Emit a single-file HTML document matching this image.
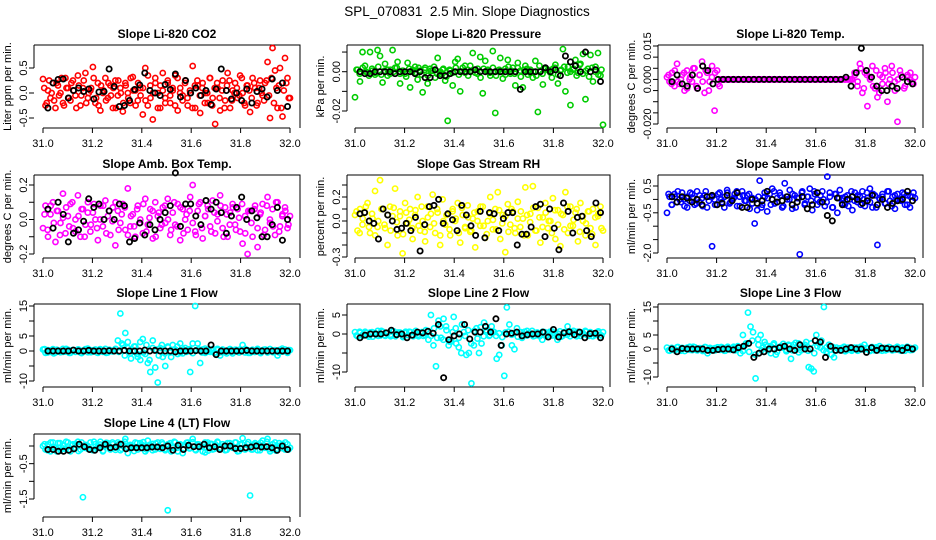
<!DOCTYPE html>
<html><head><meta charset="utf-8"><title>SPL_070831 2.5 Min. Slope Diagnostics</title>
<style>
html,body{margin:0;padding:0;background:#fff;}
svg{display:block;font-family:"Liberation Sans",Arial,sans-serif;}
</style></head>
<body>
<svg id="chart" width="936" height="540" viewBox="0 0 936 540" xmlns="http://www.w3.org/2000/svg">
<rect x="0" y="0" width="936" height="540" fill="#fff"/>
<text x="467" y="16" font-size="13.5" text-anchor="middle" style="white-space:pre">SPL_070831  2.5 Min. Slope Diagnostics</text>
</svg>
<script>
// ---- data ----
const xTicks = [31.0, 31.2, 31.4, 31.6, 31.8, 32.0];
const xTickLabels = ["31.0", "31.2", "31.4", "31.6", "31.8", "32.0"];
const xStart = 31.0;
const xEnd = 32.0;

const co2Color = [0.28,-0.25,0.05,-0.1,0.2,-0.3,0.15,0.0,-0.2,0.3,0.1,-0.15,0.25,-0.05,0.35,-0.25,0.1,0.4,-0.1,0.05,0.52,-0.2,0.2,-0.35,0.0,0.3,-0.1,0.15,-0.3,0.25,-0.05,0.1,-0.37,0.2,0.0,-0.2,0.32,0.05,-0.15,0.1,-0.43,0.5,-0.25,0.15,-0.53,0.3,0.0,-0.3,0.4,-0.1,0.2,-0.2,0.05,0.35,-0.35,0.1,-0.05,0.25,-0.25,0.0,0.54,-0.3,0.15,-0.4,0.2,0.0,-0.2,0.3,-0.1,-0.62,0.1,-0.35,0.25,-0.15,0.4,-0.3,0.05,0.2,-0.1,0.35,0.0,-0.25,0.15,-0.38,0.3,0.1,-0.2,0.25,-0.05,0.2,0.62,-0.5,0.9,0.45,-0.3,0.5,-0.47,0.7,0.3,-0.1];
const co2Color2 = [0.1,-0.2,0.25,0.0,-0.15,0.2,-0.05,0.3,-0.25,0.1,-0.1,0.2,0.05,-0.3,0.15,-0.05,0.25,-0.2,0.0,0.1,0.3,-0.1,-0.25,0.15,0.05,-0.15,0.2,-0.05,0.1,-0.3,0.25,0.0,-0.2,0.15,-0.1,0.3,0.05,-0.25,0.2,-0.05,0.1,-0.15,0.35,-0.1,0.0,0.2,-0.3,0.15,0.05,-0.2,0.25,-0.05,0.1,-0.25,0.3,0.0,-0.15,0.2,-0.1,0.05,-0.3,0.15,0.25,-0.05,0.1,-0.2,0.0,0.3,-0.25,0.1,0.2,-0.1,0.05,-0.3,0.15,0.25,-0.15,0.0,0.1,-0.05,0.3,-0.2,0.15,0.05,-0.1,0.2,-0.25,0.1,0.0,-0.15,0.25,-0.05,0.3,-0.2,0.1,0.15,-0.3,0.05,0.2,-0.1];
const co2Black = [-0.3,0.2,0.27,0.28,-0.1,0.05,0.1,0.03,0.08,-0.12,0.02,0.03,0.48,0.13,-0.27,-0.25,-0.15,0.07,0.16,0.4,0.05,0.0,-0.05,0.17,0.07,0.38,-0.08,0.25,0.0,0.1,-0.05,0.05,-0.23,0.08,0.48,0.05,-0.12,0.0,-0.15,0.08,-0.2,0.03,0.08,-0.08,0.28,0.05,0.2,-0.27];

const presColor = [-0.013,0.001,-0.005,0.01,0.003,-0.0005,0.01,0.0005,-0.0015,0.011,0.008,-0.0055,0.004,0.001,-0.001,0.011,0.002,0.005,-0.006,0.0005,-0.001,0.0045,-0.008,0.001,0.0025,-0.004,0.0005,-0.0105,0.002,-0.006,0.0015,0.0005,-0.003,0.007,-0.001,0.001,-0.0045,-0.025,0.0005,-0.007,0.005,0.0065,-0.01,0.002,-0.0005,0.001,0.003,0.0095,-0.0005,0.0015,0.0075,-0.011,0.0055,0.001,-0.002,0.0105,-0.021,0.0005,0.007,-0.0035,0.0015,0.006,-0.001,0.002,-0.007,0.0045,0.0005,-0.008,0.003,-0.0015,0.001,-0.003,0.0055,-0.0205,0.0005,-0.0065,0.002,0.001,-0.0005,0.0015,0.0035,-0.006,0.0005,0.0115,-0.01,0.0025,-0.017,0.001,0.006,-0.0005,0.004,0.009,-0.014,0.0015,0.0085,-0.005,0.0025,0.0095,-0.002,-0.027];
const presColor2 = [0.001,-0.001,0.002,0,-0.002,0.0015,-0.0005,0.0025,-0.0015,0.0005,-0.002,0.001,0,0.002,-0.001,0.0005,-0.0025,0.0015,0,-0.0005,0.002,-0.0015,0.001,-0.002,0.0005,0.0025,-0.001,0,0.0015,-0.0025,0.001,-0.0005,0.002,-0.0015,0,0.003,-0.002,0.0005,0.001,-0.001,-0.003,0.0015,0.0005,-0.0005,0.002,-0.002,0.001,0,-0.0015,0.0025,0.0005,-0.001,0.002,-0.0025,0.001,0.0015,-0.0005,0,-0.002,0.003,-0.001,0.0015,0.0005,-0.003,0.002,-0.0015,0.001,0.0025,-0.0005,0,0.0015,-0.002,0.0035,-0.001,0.0005,-0.0025,0.002,0,-0.0015,0.001];
const presBlack = [0,-0.001,-0.001,0,0,0,0,-0.001,0,0,0,-0.001,0,-0.003,-0.003,0.001,-0.002,-0.002,-0.001,0,0,0,0,0.001,0,0,0,0,0,0,0,0,-0.009,0,0,0,0,0.002,0,0.001,-0.002,0.008,0.005,0.003,0,0.01,0,0.001,-0.005];

const tempColor = [0.001,-0.001,0.003,-0.003,0.007,-0.002,0.002,-0.005,0.004,0,-0.001,0.005,-0.004,0.002,0.008,-0.006,0.003,-0.001,0.006,-0.014,0.004,-0.003,0,0,0,0,0,0,0,0,0,0,0,0,0,0,0,0,0,0,0,0,0,0,0,0,0,0,0,0,0,0,0,0,0,0,0,0,0,0,0,0,0,0,0,0,0,0,0,0,0,0,0,0,0,0.002,-0.003,0.007,-0.006,0.003,-0.012,0.001,0.006,-0.004,-0.008,0.002,-0.002,0.005,-0.01,0,0.003,-0.005,-0.019,0.004,0.001,-0.003,0.002,0,-0.001,0.001];
const tempColor2 = [0.002,-0.002,0.004,-0.001,0,0.003,-0.004,0.001,0.005,-0.003,0.002,-0.001,0.004,-0.005,0.001,0.003,-0.002,0,0,0,0,0,0,0,0,0,0,0,0,0,0,0,0,0,0,0,0,0,0,0,0,0,0,0,0,0,0,0,0,0,0,0,0,0,0,0,0,0,0,0,0.003,-0.001,0.005,-0.004,0.002,0,-0.003,0.004,-0.006,0.001,0.003,-0.002,0.006,-0.001,0,0.002,-0.004,0.001,0.003,-0.002];
const tempBlack = [-0.001,0.002,-0.002,-0.003,0.002,-0.004,0.006,0.004,-0.002,0,0,0,0,0,0,0,0,0,0,0,0,0,0,0,0,0,0,0,0,0,0,0,0,0,0.001,-0.003,0.003,0.014,0.004,0.001,-0.003,-0.005,-0.005,-0.003,-0.004,0.001,-0.001,-0.002];

const ambColor = [-0.05,0.08,-0.1,0.03,0.1,-0.13,0.05,-0.02,0.15,-0.08,0.02,0.09,-0.05,0.0,0.14,-0.1,0.06,-0.03,0.1,-0.07,0.04,0.0,-0.12,0.08,-0.04,0.11,0.02,-0.09,0.07,-0.15,0.05,-0.02,0.09,-0.06,0.18,-0.04,0.03,-0.1,0.08,0.0,-0.08,0.12,-0.03,0.06,-0.11,0.1,0.02,-0.05,0.07,-0.02,0.12,-0.09,0.04,-0.03,0.09,-0.12,0.06,0.0,-0.06,0.13,0.2,-0.07,0.05,0.1,-0.11,0.02,0.08,-0.04,0.11,-0.08,0.03,0.14,-0.05,0.07,-0.1,0.04,0.09,-0.03,0.06,-0.07,-0.14,0.02,-0.2,0.05,-0.1,0.08,-0.16,0.03,0.09,-0.06,0.13,-0.02,0.06,-0.09,0.1,-0.04,0.03,0.07,-0.05,0.02];
const ambColor2 = [0.03,-0.06,0.08,-0.02,0.05,-0.09,0.01,0.07,-0.04,0.1,-0.07,0.02,0.06,-0.1,0.04,-0.03,0.09,-0.05,0.0,0.08,-0.08,0.05,-0.01,0.1,-0.06,0.03,0.07,-0.09,0.02,-0.04,0.06,-0.02,0.09,-0.07,0.01,0.05,-0.1,0.04,-0.03,0.08,0.0,-0.06,0.1,-0.04,0.07,-0.08,0.03,0.05,-0.02,-0.09,0.09,-0.05,0.02,0.06,-0.07,0.04,-0.01,0.08,-0.1,0.03,-0.03,0.07,-0.06,0.01,0.09,-0.08,0.05,-0.02,0.06,-0.05,0.04,-0.09,0.08,0.0,-0.04,0.1,-0.07,0.02,0.05,-0.03];
const ambBlack = [0.06,-0.05,0.1,0.03,-0.13,-0.08,-0.06,-0.01,0.12,0.07,0.09,0.0,0.05,0.0,0.09,0.08,-0.13,-0.11,-0.02,-0.09,-0.03,-0.06,0.0,0.04,0.08,0.27,-0.04,0.09,0.09,0.02,-0.03,0.11,0.06,0.1,0.04,-0.08,0.02,0.07,0.13,0.0,0.05,0.01,-0.1,-0.1,-0.03,0.07,-0.12,0.0];

const rhColor = [0.05,-0.08,0.1,-0.03,0.07,0.15,-0.1,0.02,0.25,-0.05,0.34,0.1,-0.06,-0.2,0.12,0.04,0.27,-0.12,0.08,-0.27,0.15,-0.02,0.1,-0.15,0.05,0.2,-0.08,0.0,-0.17,0.12,-0.05,0.22,-0.1,0.07,-0.2,0.18,-0.03,0.06,-0.12,0.1,0.0,0.15,-0.18,0.05,-0.06,0.13,-0.09,0.02,-0.22,0.08,-0.04,0.12,-0.14,0.0,0.2,-0.07,0.1,0.24,-0.15,0.05,-0.26,0.14,-0.03,0.08,-0.1,0.16,-0.05,0.02,0.28,-0.12,0.06,0.29,-0.08,0.11,-0.18,0.03,0.15,-0.06,0.0,0.19,-0.15,0.09,-0.21,0.05,0.24,-0.1,0.12,-0.04,0.07,-0.17,0.15,0.0,-0.12,0.08,-0.06,0.1,-0.2,0.04,0.12,-0.08];
const rhColor2 = [0.08,-0.1,0.02,0.12,-0.05,0.06,-0.12,0.0,0.1,-0.03,0.05,-0.08,0.11,-0.01,0.04,-0.11,0.07,0.01,-0.06,0.09,-0.04,0.12,-0.09,0.03,0.06,-0.02,0.1,-0.12,0.0,0.05,-0.07,0.08,0.02,-0.1,0.11,-0.05,0.03,-0.08,0.07,0.0,0.12,-0.04,-0.11,0.06,0.01,-0.07,0.09,-0.02,0.04,-0.09,0.1,-0.06,0.02,0.08,-0.12,0.05,-0.01,0.11,-0.08,0.03,-0.05,0.07,0.0,-0.1,0.09,-0.03,0.06,-0.07,0.12,-0.04,0.01,0.1,-0.09,0.04,-0.02,0.08,-0.11,0.03,0.06,-0.06];
const rhBlack = [0.06,0.07,0.0,-0.02,-0.15,0.1,0.05,0.0,-0.07,-0.06,-0.02,-0.08,0.03,-0.25,-0.03,0.12,0.13,0.18,-0.02,0.06,0.01,-0.08,0.13,0.05,-0.04,-0.12,0.08,-0.14,0.07,0.06,-0.08,0.02,0.07,0.07,-0.2,-0.11,-0.11,-0.05,0.12,0.14,-0.13,0.1,-0.06,-0.24,0.15,0.08,-0.1,0.03,0.04,-0.08,-0.13,0.15,0.07];

const flowColor = [-0.5,0.1,-0.2,0.2,-0.1,0.0,0.25,-0.25,0.1,-0.05,0.2,-0.2,0.3,-0.1,0.05,0.15,-0.3,0.1,-1.75,0.0,-0.2,0.25,-0.1,0.1,0.35,-0.15,0.0,0.2,-0.25,0.1,0.3,-0.05,0.15,-0.35,0.05,-0.9,-0.4,0.7,-0.2,0.1,-0.45,0.2,0.4,-0.15,0.05,0.25,-0.3,0.6,0.0,0.35,-0.35,0.15,0.05,-2.05,0.3,-0.2,0.1,0.4,-0.4,0.2,0.0,-0.1,0.3,-0.25,0.85,0.1,-0.3,0.2,-0.5,0.35,0.05,-0.2,0.15,0.0,-0.4,0.25,-0.1,0.1,0.3,-0.25,0.05,0.4,-0.3,0.15,-1.7,0.0,0.2,-0.15,0.3,-0.05,0.1,-0.35,0.2,0.0,0.25,-0.2,0.15,-0.3,0.1,0.05];
const flowColor2 = [0.2,-0.2,0.1,0.3,-0.1,0.0,-0.3,0.25,0.05,-0.15,0.15,-0.25,0.3,-0.05,0.1,-0.2,0.2,0.0,-0.3,0.25,-0.1,0.05,0.3,-0.25,0.15,-0.05,0.2,-0.15,0.0,0.1,-0.3,0.25,0.05,-0.2,0.3,-0.1,0.15,-0.25,0.1,0.0,0.2,-0.3,0.05,0.25,-0.15,0.1,-0.05,0.3,-0.2,0.15,0.0,-0.1,0.25,-0.3,0.2,0.05,-0.15,0.1,-0.25,0.3,-0.05,0.15,-0.2,0.0,0.25,-0.1,0.2,-0.3,0.05,0.1,-0.15,0.3,-0.25,0.15,0.0,-0.05,0.2,-0.2,0.1,0.25];
const flowBlack = [0.1,-0.1,0.1,0.05,-0.1,0.0,-0.2,0.1,0.15,-0.2,-0.15,0.15,-0.05,0.25,-0.3,-0.3,0.0,-0.15,-0.05,0.3,0.0,-0.1,-0.05,0.1,-0.2,-0.1,0.1,-0.35,-0.2,0.25,-0.1,-0.6,-0.8,0.05,-0.2,0.0,0.1,0.0,-0.15,-0.05,0.15,-0.2,0.0,-0.3,-0.15,-0.05,0.0,0.3,-0.05];

const line1Color = [0.5,-0.6,0.3,-0.3,0.6,-0.5,0.2,-0.4,0.7,-0.2,0.4,-0.6,0.3,-0.3,0.5,-0.5,0.1,0.6,-0.4,0.3,-0.2,0.5,-0.6,0.4,-0.3,0.7,-0.5,0.2,-0.1,0.6,3.5,12.5,2,6,3,-0.8,-0.2,1.5,-2,-3,4,-1,-4,-7,3.5,-5.5,-10.5,1,-2,-5,1.5,-0.5,2,0.5,-1,2.5,-0.8,1,0.3,-7,2.5,15,2.5,-4,0.5,-0.6,0.4,-0.3,0.6,-0.5,0.3,-1.5,0.5,-0.4,0.2,0.6,-0.8,0.4,-0.2,0.5,2,-0.5,0.3,-0.6,0.4,-0.3,0.7,-0.4,0.2,0.5,-0.5,0.6,-0.3,0.3,-1.5,0.4,-0.2,0.5,-0.6,0.3];
const line1Color2 = [0.6,-0.5,0.2,-0.8,0.4,0.0,-0.3,0.7,-0.6,0.3,-0.2,0.5,-0.7,0.1,0.8,-0.4,0.3,-0.5,0.6,0.0,-0.6,0.4,-0.1,0.7,-0.3,2.5,-1.5,1,-2.5,1.5,-1,3,-0.5,2,-3,1,0.5,-1.5,2,-0.8,1.2,-2,0.5,1.5,-0.6,0.4,-0.3,0.6,-0.7,0.2,0.5,-0.5,0.8,-0.2,0.3,-0.6,0.7,-0.4,0.1,-0.8,0.6,-0.2,0.4,-0.5,0.3,0.7,-0.6,0.2,-0.3,0.5,-0.7,0.4,0.0,0.6,-0.4,0.2,-0.5,0.8,-0.1,0.3];
const line1Black = [0,0,0,0,0,0.3,0,0,0.2,0,0,0,0.1,0,0,0.2,0,0,0,0.3,0,0.2,0,0,0,-0.3,0,0,0,0.1,0,0,2,-1.2,0,0,0,0,0,0.2,0,0,0,0,0,0,0,0];

const line2Color = [0.5,-0.6,0.3,-0.5,0.6,-0.3,0.4,-0.7,0.2,0.8,-0.4,0.6,-0.5,0.3,-0.2,0.7,-0.6,0.4,0.1,-0.5,0.6,-0.3,0.5,-0.6,0.8,-0.2,0.3,-0.5,1,-1.5,5,-3,-8.5,3.5,-1,4,2,-3,-2,4.5,-2.5,-3.5,-5,0.5,-5.5,-5,-13,-3,1.5,-5,-2.5,3,1,-0.5,2,0.5,-6.5,-5.5,-3,-11,7,2.5,-3,-4,1.5,0.5,-1,0.6,-0.4,0.3,0.8,-0.5,0.4,-0.6,-1.5,0.5,-0.3,0.6,-0.4,0.2,-1.5,0.7,-0.5,0.3,2,-0.6,0.4,-0.2,0.6,-0.5,0.3,0.8,-0.4,0.5,-0.6,0.2,0.4,-0.3,0.5];
const line2Color2 = [-0.4,0.6,-0.2,0.3,-0.7,0.5,0.0,-0.5,0.8,-0.3,0.2,-0.6,0.7,-0.1,0.4,-0.8,0.3,0.6,-0.4,0.1,-0.6,0.5,-0.2,0.8,-0.5,1.5,-1,2,-1.5,1,-2,0.5,1.5,-1,2.5,-0.5,1,-2.5,0.8,-1.2,1.8,-0.6,0.5,-0.3,0.7,-0.5,0.2,-0.8,0.4,0.6,-0.2,0.3,-0.7,0.5,-0.4,0.8,0.0,-0.6,0.3,-0.3,0.6,-0.5,0.2,0.7,-0.4,0.1,-0.7,0.5,-0.2,0.4,0.8,-0.6,0.3,-0.1,0.6,-0.5,0.2,-0.3,0.7,-0.4];
const line2Black = [-1,-0.3,0,0,0,0.3,1,-0.2,0,-1,-0.3,0.5,0.3,0.7,0.2,2.5,-11.5,-1.5,-0.5,0,2.5,-1.3,0.5,0.5,2,0.5,4,-3,0,0.2,0.5,-0.5,-0.2,0,0,0.5,-0.8,1.2,-0.8,0.3,0.6,-0.2,0.5,-1,0.1,0.2,-1];

const line3Color = [0.5,-0.6,0.3,-0.5,0.6,-0.3,0.4,-0.7,0.2,0.8,-0.4,0.6,-0.5,0.3,-0.2,0.7,-1.5,0.4,0.1,-0.5,0.6,-0.3,0.5,-0.6,0.8,-0.2,0.3,-0.5,1,-1.5,5,1.5,13,8,6,-10.5,3.5,5,0.5,1.5,-0.5,1,1.5,-2,0.5,1,0.5,-0.3,1.5,-3.5,1.5,0.5,2,-0.5,1,2.5,-6.5,-7,-8,5,2,3,15,-1,1.5,-2,-3,0.5,-0.4,0.3,0.8,-0.5,0.4,-0.6,0.5,0.5,-0.3,0.6,1.5,0.2,-0.5,0.7,-0.5,0.3,1,-0.6,0.4,-0.2,0.6,-0.5,0.3,0.8,-0.4,0.5,-0.6,0.2,0.4,-0.3,0.5];
const line3Color2 = [-0.5,0.4,-0.2,0.7,-0.6,0.1,0.5,-0.3,0.8,-0.4,0.2,-0.7,0.6,0.0,-0.5,0.3,-0.1,0.7,-0.6,0.4,-0.3,0.8,-0.2,0.5,-0.7,2,-1,3,-2,1.5,-0.5,2.5,1,-1.5,2,-1,0.5,1.8,-0.8,1.2,-0.5,2.2,-1.2,0.8,1.5,-0.6,2,-1.5,1,0.5,-0.4,0.6,-0.3,0.7,-0.5,0.2,0.4,-0.8,0.5,-0.1,0.3,-0.6,0.8,-0.2,0.4,-0.7,0.1,0.6,-0.4,0.3,-0.5,0.7,0.0,-0.3,0.5,-0.6,0.2,0.8,-0.4,0.1];
const line3Black = [0,-1,0.2,0,0,0,0,-0.5,-0.5,-0.2,0,0,-0.3,0.5,1,2,-3,-1.5,-1,0,0,0.5,1,0,-0.5,1.5,0,0,3,2.5,-3,1,-0.5,-0.5,0,0.5,0,0,-1.2,0.5,-0.5,0.3,0.2,0,0,-0.5,0.5,0];

const line4Color = [0.0,-0.1,0.05,-0.15,0.1,-0.05,0.08,-0.12,0.02,-0.08,0.1,-0.15,0.05,-0.05,0.12,-0.1,-1.45,0.03,-0.08,0.1,-0.12,0.05,-0.02,0.12,-0.15,0.0,0.08,-0.1,0.05,-0.05,0.1,-0.12,0.05,0.2,-0.2,0.03,-0.05,0.1,-0.1,0.08,0.02,-0.15,0.15,-0.03,0.06,-0.1,0.1,-0.08,0.05,-0.12,-1.82,0.08,-0.05,0.1,-0.15,0.05,-0.2,0.03,0.1,-0.05,0.2,-0.1,0.05,0.0,-0.15,-0.18,0.1,0.06,-0.1,0.05,0.1,-0.08,0.05,-0.12,0.08,0.0,-0.05,0.1,-0.15,0.05,0.22,-0.1,0.05,-1.4,-0.1,0.08,0.03,-0.12,0.15,-0.05,0.2,-0.15,0.05,0.1,-0.08,0.0,0.06,-0.1,0.05,-0.05];
const line4Color2 = [0.05,-0.12,0.1,-0.03,-0.15,0.08,-0.07,0.12,-0.1,0.02,0.06,-0.14,0.1,-0.05,0.0,-0.1,0.12,-0.06,0.04,-0.13,0.09,-0.02,0.1,-0.11,0.05,-0.08,0.12,-0.04,0.0,-0.14,0.08,-0.06,0.11,-0.1,0.03,-0.12,0.07,-0.03,0.1,-0.09,0.05,-0.15,0.12,-0.05,0.02,-0.1,0.09,-0.07,0.11,-0.12,0.04,-0.02,0.1,-0.13,0.06,-0.08,0.12,-0.05,0.0,-0.11,0.08,-0.04,0.1,-0.14,0.05,-0.07,0.11,-0.1,0.03,-0.12,0.09,-0.03,0.12,-0.09,0.05,-0.13,0.08,-0.06,0.1,-0.1];
const line4Black = [-0.1,-0.1,-0.15,-0.15,-0.12,-0.08,0.05,-0.02,-0.1,-0.12,-0.05,0.05,-0.05,-0.03,0.05,-0.08,-0.05,-0.05,-0.05,-0.05,-0.03,-0.03,-0.05,0.0,-0.12,0.02,-0.1,0.02,-0.02,-0.02,0.05,-0.05,-0.02,-0.1,0.0,0.0,-0.07,-0.07,-0.05,-0.03,0.0,-0.03,-0.02,-0.05,-0.12,0.0,-0.1];

const co2Ticks = [-0.5, 0.0, 0.5];            const co2Labels = ["-0.5","0.0","0.5"];
const presTicks = [0.01, 0.0, -0.01, -0.02];  const presLabels = ["","0.00","","-0.02"];
const tempTicks = [0.015,0.01,0.005,0,-0.005,-0.01,-0.015,-0.02]; const tempLabels = ["0.015","","","0.000","","","","-0.020"];
const ambTicks = [0.2,0.1,0,-0.1,-0.2];       const ambLabels = ["0.2","","0.0","","-0.2"];
const rhTicks = [0.3,0.2,0.1,0,-0.1,-0.2,-0.3]; const rhLabels = ["","0.2","","0.0","","","-0.3"];
const flowTicks = [0.5,0,-0.5,-1,-1.5,-2];    const flowLabels = ["0.5","","-0.5","","","-2.0"];
const line1Ticks = [15,10,5,0,-5,-10];        const line1Labels = ["15","","5","0","","-10"];
const line2Ticks = [5,0,-5,-10];              const line2Labels = ["5","0","","-10"];
const line3Ticks = [15,10,5,0,-5,-10];        const line3Labels = ["15","","5","0","","-10"];
const line4Ticks = [0,-0.5,-1,-1.5];          const line4Labels = ["","-0.5","","-1.5"];

// ---- layout (geometry only) ----
const cols = [{L:34,R:300,px0:43,px1:290},{L:347,R:610,px0:355,px1:603},{L:658,R:923,px0:667,px1:915}];
const rows = [45,175,304,434];
const H = 83;

const panels = [
 {name:"co2",title:"Slope Li-820 CO2",ylab:"Liter ppm per min.",c:0,r:0,color:"#ff0000",col:co2Color,col2:co2Color2,blk:co2Black,ticks:co2Ticks,labels:co2Labels,ref:[0.5,68,-0.5,118]},
 {name:"pressure",title:"Slope Li-820 Pressure",ylab:"kPa per min.",c:1,r:0,color:"#00cc00",col:presColor,col2:presColor2,blk:presBlack,ticks:presTicks,labels:presLabels,ref:[0,71.7,-0.02,111]},
 {name:"temp",title:"Slope Li-820 Temp.",ylab:"degrees C per min.",c:2,r:0,color:"#ff00ff",col:tempColor,col2:tempColor2,blk:tempBlack,ticks:tempTicks,labels:tempLabels,ref:[0.015,46,-0.02,124]},
 {name:"amb-box-temp",title:"Slope Amb. Box Temp.",ylab:"degrees C per min.",c:0,r:1,color:"#ff00ff",col:ambColor,col2:ambColor2,blk:ambBlack,ticks:ambTicks,labels:ambLabels,ref:[0.2,185,-0.2,254]},
 {name:"gas-stream-rh",title:"Slope Gas Stream RH",ylab:"percent per min.",c:1,r:1,color:"#ffff00",col:rhColor,col2:rhColor2,blk:rhBlack,ticks:rhTicks,labels:rhLabels,ref:[0.3,185,-0.3,257]},
 {name:"sample-flow",title:"Slope Sample Flow",ylab:"ml/min per min.",c:2,r:1,color:"#0000ff",col:flowColor,col2:flowColor2,blk:flowBlack,ticks:flowTicks,labels:flowLabels,ref:[0.5,186,-2,253]},
 {name:"line1-flow",title:"Slope Line 1 Flow",ylab:"ml/min per min.",c:0,r:2,color:"#00ffff",col:line1Color,col2:line1Color2,blk:line1Black,ticks:line1Ticks,labels:line1Labels,ref:[15,306,-10,381]},
 {name:"line2-flow",title:"Slope Line 2 Flow",ylab:"ml/min per min.",c:1,r:2,color:"#00ffff",col:line2Color,col2:line2Color2,blk:line2Black,ticks:line2Ticks,labels:line2Labels,ref:[5,315,-10,372]},
 {name:"line3-flow",title:"Slope Line 3 Flow",ylab:"ml/min per min.",c:2,r:2,color:"#00ffff",col:line3Color,col2:line3Color2,blk:line3Black,ticks:line3Ticks,labels:line3Labels,ref:[15,307,-10,377]},
 {name:"line4-flow",title:"Slope Line 4 (LT) Flow",ylab:"ml/min per min.",c:0,r:3,color:"#00ffff",col:line4Color,col2:line4Color2,blk:line4Black,ticks:line4Ticks,labels:line4Labels,ref:[0,446,-1.5,499]}
];

const NS = "http://www.w3.org/2000/svg";
const svg = document.getElementById("chart");
function mk(tag, attrs, parent, txt){
  const e = document.createElementNS(NS, tag);
  for (const k in attrs) e.setAttribute(k, attrs[k]);
  if (txt !== undefined) e.textContent = txt;
  parent.appendChild(e);
  return e;
}

panels.forEach(p => {
  const g = mk("g", {}, svg);
  
  
  const C = cols[p.c], T = rows[p.r], B = T + H;
  const xScale = v => C.px0 + (v - xStart) / (xEnd - xStart) * (C.px1 - C.px0);
  const [v0, y0, v1, y1] = p.ref;
  const yScale = v => y0 + (v - v0) / (v1 - v0) * (y1 - y0);

  const t = mk("text", {x:(C.L + C.R)/2, y:T - 7, "font-size":12, "font-weight":"bold", "text-anchor":"middle"}, g, p.title);
  
  

  const box = mk("path", {d:`M${C.L},${T}H${C.R}V${B}M${C.L},${T}V${yScale(p.ticks[p.ticks.length-1])}`, fill:"none", stroke:"#000", "stroke-width":1}, g);
  
  

  const xa = mk("g", {}, g);
  
  
  mk("line", {x1:xScale(xTicks[0]), x2:xScale(xTicks[xTicks.length-1]), y1:B, y2:B, stroke:"#000"}, xa);
  xTicks.forEach((v, i) => {
    const X = xScale(v);
    mk("line", {x1:X, x2:X, y1:B, y2:B + 5, stroke:"#000"}, xa);
    const tl = mk("text", {x:X, y:B + 19, "font-size":11, "text-anchor":"middle"}, xa, xTickLabels[i]);
    
    
  });

  const ya = mk("g", {}, g);
  
  
  p.ticks.forEach((v, i) => {
    const Y = yScale(v);
    mk("line", {x1:C.L - 5, x2:C.L, y1:Y, y2:Y, stroke:"#000"}, ya);
    if (p.labels[i]) {
      const tl = mk("text", {x:0, y:0, "font-size":11, "text-anchor":"middle", transform:`translate(${C.L - 7},${Y}) rotate(-90)`}, ya, p.labels[i]);
      
      
    }
  });
  const yt = mk("text", {x:0, y:0, "font-size":11, "text-anchor":"middle", transform:`translate(${C.L - 23},${(T + B)/2}) rotate(-90)`}, g, p.ylab);
  
  

  const sc = mk("g", {fill:"none", stroke:p.color, "stroke-width":1.6}, g);
  
  
  const n = p.col.length;
  p.col.forEach((v, i) => {
    const c = mk("circle", {cx:xScale(xStart + (xEnd - xStart) * i / (n - 1)), cy:yScale(v), r:2.6}, sc);
    
    
  });
  const n2 = p.col2.length;
  p.col2.forEach((v, i) => {
    const c = mk("circle", {cx:xScale(xStart + (xEnd - xStart) * (i + 0.5) / n2), cy:yScale(v), r:2.6}, sc);
    
    
  });

  const sb = mk("g", {fill:"none", stroke:"#000", "stroke-width":1.8}, g);
  
  
  const m = p.blk.length;
  p.blk.forEach((v, i) => {
    const c = mk("circle", {cx:xScale(31.02 + 0.97 * i / (m - 1)), cy:yScale(v), r:2.6}, sb);
    
    
  });
});
</script>
</body></html>
